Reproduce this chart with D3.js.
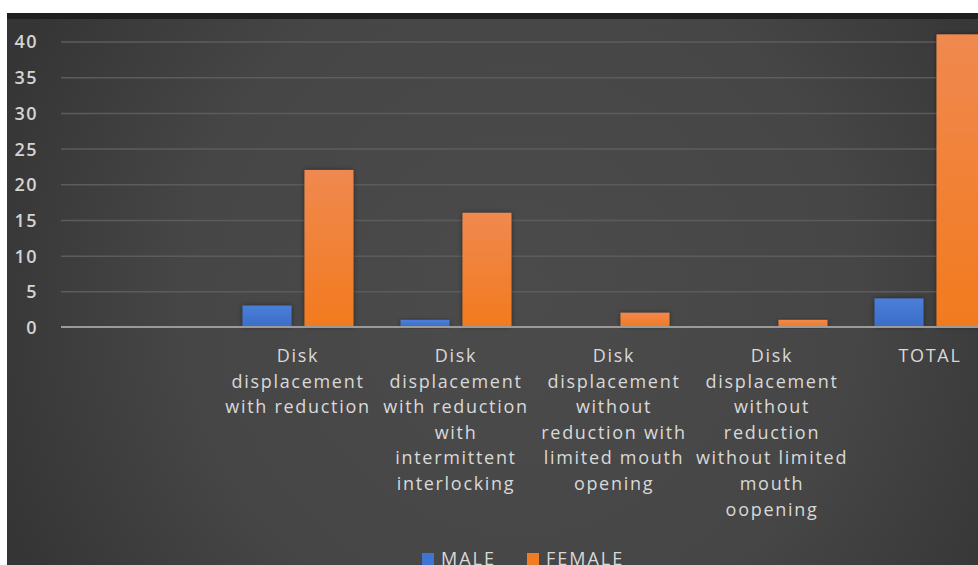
<!DOCTYPE html>
<html>
<head>
<meta charset="utf-8">
<script src="https://cdn.jsdelivr.net/npm/d3@7"></script>
<style>
  html, body { margin: 0; padding: 0; background: #ffffff; }
  svg { display: block; }
</style>
</head>
<body>
<div id="canvas"></div>
<script>
// Canvas size
const WIDTH = 978;
const HEIGHT = 565;

// The data.
const categories = ["", "Disk displacement with reduction", "Disk displacement with reduction with intermittent interlocking",
    "Disk displacement without reduction with limited mouth opening",
    "Disk displacement without reduction without limited mouth oopening", "TOTAL"];
// Line breaks of the category labels as they wrap in the picture.
const categoryLines = [
    [],
    ["Disk", "displacement", "with reduction"],
    ["Disk", "displacement", "with reduction", "with", "intermittent", "interlocking"],
    ["Disk", "displacement", "without", "reduction with", "limited mouth", "opening"],
    ["Disk", "displacement", "without", "reduction", "without limited", "mouth", "oopening"],
    ["TOTAL"]
];
const seriesNames = ["MALE", "FEMALE"];
const male = [null, 3, 1, 0, 0, 4];
const female = [null, 22, 16, 2, 1, 41];
const yTicks = [0, 5, 10, 15, 20, 25, 30, 35, 40];
const colors = ["#4174d0", "#f27b25"];

// Plot area
const PLOT_LEFT = 61, PLOT_RIGHT = 1009, PLOT_TOP = 41.5, PLOT_BOTTOM = 327;

const svg = d3.select("#canvas")
    .append("svg")
    .attr("width", WIDTH)
    .attr("height", HEIGHT);

const defs = svg.append("defs");

// Background gradient: darker at edges, lighter in the middle.
const bg = defs.append("radialGradient")
    .attr("id", "bg")
    .attr("gradientUnits", "userSpaceOnUse")
    .attr("cx", 520).attr("cy", 300).attr("r", 560);
bg.append("stop").attr("offset", "0%").attr("stop-color", "#4b4b4b");
bg.append("stop").attr("offset", "60%").attr("stop-color", "#464646");
bg.append("stop").attr("offset", "100%").attr("stop-color", "#353535");

// Bar gradients.
const barGrad = [["#4a7fd9", "#3b6cc8"], ["#f0894f", "#f27a1e"]];
barGrad.forEach((c, i) => {
    const g = defs.append("linearGradient")
        .attr("id", "bar" + i)
        .attr("x1", 0).attr("y1", 0).attr("x2", 0).attr("y2", 1);
    g.append("stop").attr("offset", "0%").attr("stop-color", c[0]);
    g.append("stop").attr("offset", "100%").attr("stop-color", c[1]);
});

const shadow = defs.append("filter").attr("id", "shadow")
    .attr("x", "-20%").attr("y", "-20%").attr("width", "140%").attr("height", "140%");
shadow.append("feDropShadow")
    .attr("dx", 0).attr("dy", 0).attr("stdDeviation", 2.5)
    .attr("flood-color", "#000").attr("flood-opacity", 0.45);

// Background panels
svg.append("rect")
    .attr("x", 7).attr("y", 13)
    .attr("width", WIDTH - 7).attr("height", HEIGHT - 13)
    .attr("fill", "url(#bg)");
svg.append("rect")
    .attr("x", 7).attr("y", 13)
    .attr("width", WIDTH - 7).attr("height", 6)
    .attr("fill", "#1f1f1f");

// Scales
const x0 = d3.scaleBand()
    .domain(d3.range(categories.length))
    .range([PLOT_LEFT, PLOT_RIGHT])
    .paddingInner(0)
    .paddingOuter(0);

const x1 = d3.scaleBand()
    .domain(seriesNames)
    .range([0, x0.bandwidth()])
    .paddingInner(0.21)
    .paddingOuter(0.38);

const y = d3.scaleLinear()
    .domain([0, 40])
    .range([PLOT_BOTTOM, PLOT_TOP]);

// Gridlines
const grid = d3.axisLeft(y)
    .tickValues(yTicks.slice(1))
    .tickSize(-(WIDTH - PLOT_LEFT))
    .tickFormat("");

svg.append("g")
    .attr("transform", `translate(${PLOT_LEFT},0)`)
    .call(grid)
    .call(g => g.select(".domain").remove())
    .call(g => g.selectAll("line").attr("stroke", "#5c5c5c").attr("stroke-width", 1.5));

// Y axis labels
const yAxis = d3.axisLeft(y)
    .tickValues(yTicks)
    .tickSize(0)
    .tickPadding(0);

svg.append("g")
    .attr("transform", "translate(38,0)")
    .call(yAxis)
    .call(g => g.select(".domain").remove())
    .call(g => g.selectAll("text")
        .attr("fill", "#d4d4d4")
        .attr("font-family", "'Open Sans', sans-serif")
        .attr("font-size", 18)
        .attr("font-weight", 600)
        .attr("letter-spacing", 1.5)
        .attr("dy", "0.36em"));

// Bars
const rows = categories.map((c, i) => ({ i, values: [male[i], female[i]] }));

const groups = svg.selectAll("g.cat")
    .data(rows)
    .enter()
    .append("g")
    .attr("class", "cat")
    .attr("transform", d => `translate(${x0(d.i)},0)`);

groups.selectAll("rect")
    .data(d => d.values.map((v, k) => ({ k, v })).filter(e => e.v !== null && e.v > 0))
    .enter()
    .append("rect")
    .attr("x", e => x1(seriesNames[e.k]))
    .attr("y", e => y(e.v))
    .attr("width", x1.bandwidth())
    .attr("height", e => y(0) - y(e.v))
    .attr("fill", e => `url(#bar${e.k})`)
    .attr("filter", "url(#shadow)");

// Baseline
const xAxis = d3.axisBottom(x0).tickSize(0).tickFormat("");
svg.append("g")
    .attr("transform", `translate(0,${PLOT_BOTTOM})`)
    .call(xAxis)
    .call(g => g.select(".domain")
        .attr("d", `M${PLOT_LEFT},0H${WIDTH}`)
        .attr("stroke", "#9a9a9a")
        .attr("stroke-width", 2));

// Category labels
const labels = svg.append("g")
    .attr("font-family", "'Open Sans', sans-serif")
    .attr("font-size", 18)
    .attr("letter-spacing", 1.7)
    .attr("fill", "#d9d9d9")
    .attr("text-anchor", "middle");

labels.selectAll("text")
    .data(categoryLines.map((lines, i) => ({ lines, i })))
    .enter()
    .append("text")
    .attr("x", d => x0(d.i) + x0.bandwidth() / 2)
    .attr("y", 362)
    .selectAll("tspan")
    .data(d => d.lines.map((t, k) => ({ t, k, x: x0(d.i) + x0.bandwidth() / 2 })))
    .enter()
    .append("tspan")
    .attr("x", t => t.x)
    .attr("dy", t => t.k === 0 ? 0 : 25.6)
    .text(t => t.t);

// Legend
const legend = svg.append("g")
    .attr("font-family", "'Open Sans', sans-serif")
    .attr("font-size", 18)
    .attr("letter-spacing", 2)
    .attr("fill", "#d9d9d9");

const legendX = [422, 527];
seriesNames.forEach((name, i) => {
    legend.append("rect")
        .attr("x", legendX[i]).attr("y", 553)
        .attr("width", 12).attr("height", 12)
        .attr("fill", colors[i]);
    legend.append("text")
        .attr("x", legendX[i] + 19).attr("y", 565)
        .text(name);
});
</script>
</body>
</html>
